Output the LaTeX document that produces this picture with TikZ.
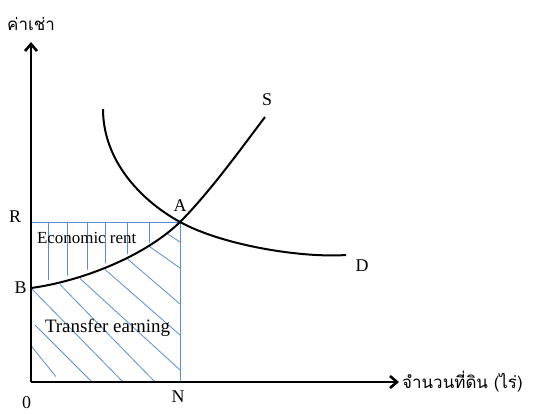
\documentclass[tikz,border=0pt]{standalone}
\usepackage{fontspec}
\setmainfont{Liberation Serif}
\newfontfamily\thaifont[Script=Thai]{Loma}
\usetikzlibrary{arrows.meta}
\definecolor{hatchblue}{RGB}{91,140,210}
\tikzset{
  axisline/.style={line width=2.6bp,-{Straight Barb[length=7bp,width=12bp,line width=2.6bp]}},
  curveline/.style={line width=2bp,black},
  hatch/.style={line width=0.8bp,hatchblue},
  lbl/.style={font=\fontsize{18}{18}\selectfont,inner sep=0pt},
}
\begin{document}
\begin{tikzpicture}[x=1bp,y=-1bp]
\useasboundingbox (0,0) rectangle (541,413);
% key points
\coordinate (O) at (31,382);
\coordinate (B) at (31,288);
\coordinate (Apt) at (180,222);
\coordinate (Rpt) at (31,222);
\coordinate (Npt) at (180,382);
\coordinate (Ytip) at (31,42);
\coordinate (Xtip) at (399,382);
% vertical hatch (economic rent), clipped above supply curve
\begin{scope}
  \clip (Rpt) -- (Apt) .. controls (144,252) and (80,276.5) .. (31,283) -- cycle;
  \foreach \x in {48,67,87,105,127,149}{
    \draw[hatch] (\x,222) -- (\x,300);
  }
\end{scope}
% diagonal hatch (transfer earning)
\draw[hatch] (31,345.7) -- (56,376.7);
\draw[hatch] (35,325) -- (91.7,381.7);
\draw[hatch] (31,288) -- (123,382);
\draw[hatch] (60,284.5) -- (155,382);
\draw[hatch] (80,278.5) -- (180,370);
\draw[hatch] (105,269.5) -- (180,335);
\draw[hatch] (127,258.5) -- (180,304);
\draw[hatch] (148,245.5) -- (180,268);
\draw[hatch] (167,233.5) -- (180,242);
% R line and N line
\draw[hatch] (Rpt) -- (Apt);
\draw[hatch] (Apt) -- (Npt);
% supply curve
\draw[curveline] (B) .. controls (80,281.5) and (144,257) .. (Apt)
  .. controls (210,192) and (243,146) .. (265,117);
% demand curve
\draw[curveline] (103,109) .. controls (103,160) and (140,200) .. (Apt)
  .. controls (222,245) and (300,258) .. (346,255);
% axes
\draw[axisline] (O) -- (Ytip);
\draw[axisline] (O) -- (Xtip);
% labels
\node[lbl] (lR) at (15,217) {R};
\node[lbl] (lB) at (20.5,288) {B};
\node[lbl] (l0) at (26.5,403) {0};
\node[lbl] (lN) at (178,397) {N};
\node[lbl] (lA) at (180,206) {A};
\node[lbl] (lS) at (267,100) {S};
\node[lbl] (lD) at (362,266) {D};
\node[inner sep=0pt,font=\fontsize{17}{17}\selectfont] (er) at (86.7,238) {Economic rent};
\node[inner sep=0pt,font=\fontsize{19}{19}\selectfont] (te) at (107.5,328) {Transfer earning};
\node[inner sep=0pt,font=\thaifont\fontsize{17}{17}\selectfont] (yl) at (31,24) {ค่าเช่า};
\node[inner sep=0pt,font=\thaifont\fontsize{17}{17}\selectfont,anchor=west] (xl) at (402,382) {จำนวนที่ดิน (ไร่)};
\end{tikzpicture}
\end{document}
